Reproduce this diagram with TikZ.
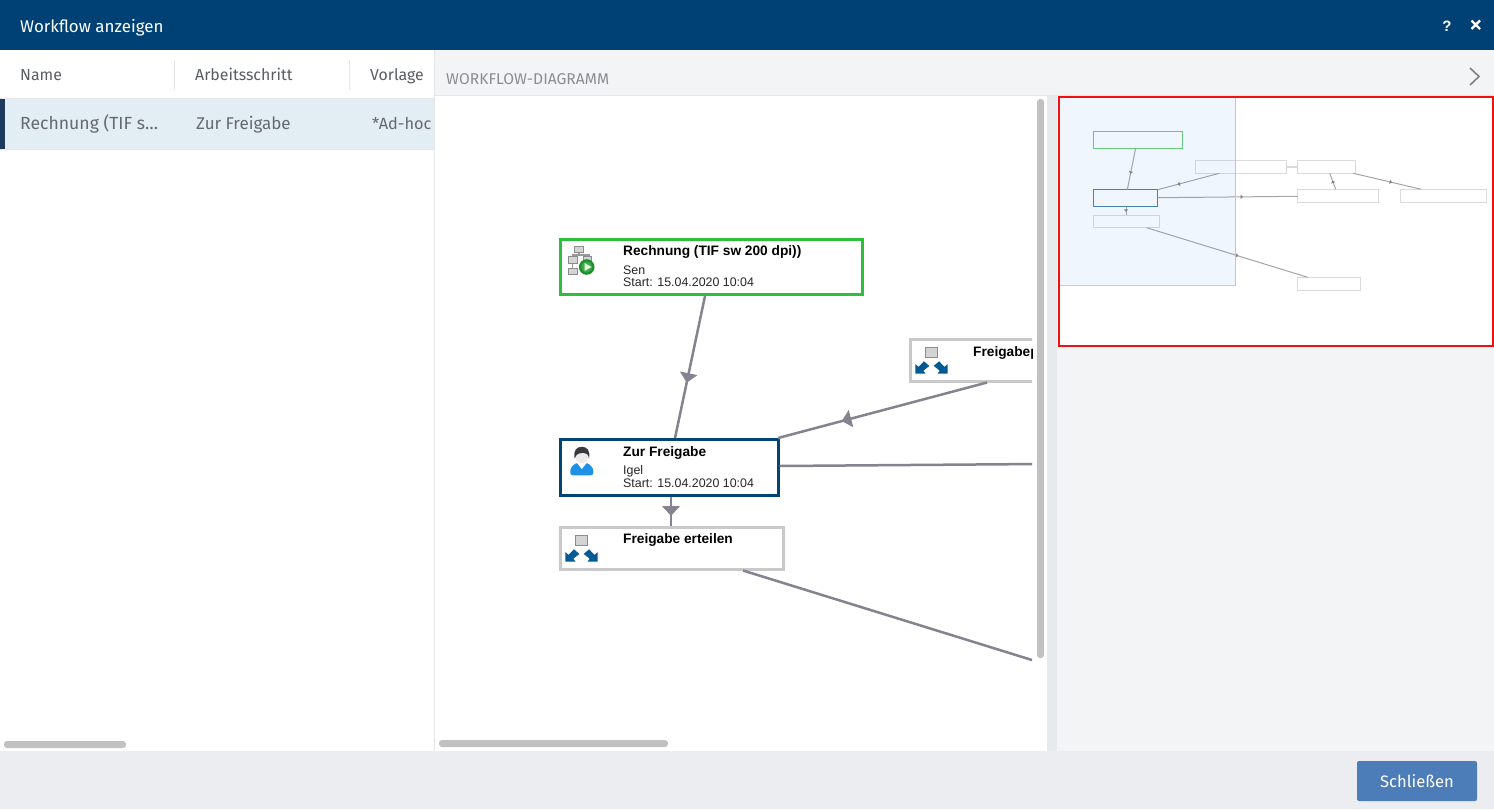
\documentclass[tikz,border=0pt]{standalone}
\usepackage{fontspec}
\setmainfont{Fira Sans}
\newfontfamily\nodefont{Liberation Sans}
\usetikzlibrary{arrows.meta,decorations.markings}
\definecolor{hdr}{HTML}{004175}
\definecolor{panel}{HTML}{F3F4F6}
\definecolor{rowbg}{HTML}{E3EDF4}
\definecolor{rowbar}{HTML}{1F3A5F}
\definecolor{sepc}{HTML}{E4E6E8}
\definecolor{gut}{HTML}{E8E9EC}
\definecolor{foot}{HTML}{EBEDF0}
\definecolor{sbar}{HTML}{C1C1C1}
\definecolor{txtc}{HTML}{66696D}
\definecolor{colc}{HTML}{5A5D61}
\definecolor{lblc}{HTML}{8A8E92}
\definecolor{btn}{HTML}{4D7DB8}
\definecolor{conn}{HTML}{85838F}
\definecolor{greenb}{HTML}{2DBE3C}
\definecolor{blueb}{HTML}{004575}
\definecolor{greyb}{HTML}{C9C9C9}
\definecolor{iconb}{HTML}{005A96}
\definecolor{minib}{HTML}{DADADC}
\definecolor{miniconn}{HTML}{A5A5AC}
\definecolor{cgreen}{HTML}{1E8E2A}
\definecolor{cgreenl}{HTML}{3FA84A}
\definecolor{cbody}{HTML}{1E90E6}
\definecolor{cface}{HTML}{EDEAE8}
\definecolor{chair}{HTML}{3A3A3E}
\definecolor{mg}{HTML}{70CC78}
\definecolor{mb}{HTML}{4C82AE}
\definecolor{ovb}{HTML}{C6CBD6}
\definecolor{ovf}{HTML}{2A8CF0}
\definecolor{cred}{HTML}{F01010}
\tikzset{
  x=1pt,y=-1pt,
  lbl/.style={anchor=base west,inner sep=0pt,font=\fontsize{17}{18}\selectfont,text=txtc},
  colhead/.style={lbl,font=\fontsize{15.9}{18}\selectfont,text=colc},
  nodetitle/.style={anchor=base west,inner sep=0pt,font=\nodefont\bfseries\fontsize{13.7}{14}\selectfont,text=black},
  nodesub/.style={anchor=base west,inner sep=0pt,font=\nodefont\fontsize{12.4}{14}\selectfont,text=black!85},
  wfbox/.style={rectangle,anchor=north west,inner sep=0pt,fill=white,line width=2.6pt},
  minibox/.style={rectangle,anchor=north west,inner sep=0pt,outer sep=0pt,draw=minib,line width=.9pt},
  midarr/.style={postaction={decorate,decoration={markings,mark=at position #1 with {\arrow[conn,line width=0pt]{Triangle[width=18pt,length=9.5pt]}}}}},
  miniarr/.style={postaction={decorate,decoration={markings,mark=at position #1 with {\arrow[miniconn!80!black,line width=0pt]{Triangle[width=4.5pt,length=2.5pt]}}}}},
  wfline/.style={draw=conn,line width=2.5pt},
  miniline/.style={draw=miniconn,line width=1pt},
  spliticon/.pic={
    \fill[iconb] (0,13.4) -- (0,3.8) -- (3.2,6.6) -- (8.6,1) -- (14,5.6) -- (8,10.4) -- (10.2,13.4) -- cycle;
    \fill[iconb] (32.4,13.4) -- (32.4,3.8) -- (29.2,6.6) -- (23.8,1) -- (18.4,5.6) -- (24.4,10.4) -- (22.2,13.4) -- cycle;
    \draw[fill=black!17,draw=black!45,line width=.8pt] (9.9,-12.6) rectangle (22.5,-3);
  },
}
\begin{document}
\begin{tikzpicture}
\useasboundingbox (0,0) rectangle (1494,809);
\fill[white] (0,0) rectangle (1494,809);
% chrome
\fill[hdr] (0,0) rectangle (1494,50);
\fill[panel] (435,50) rectangle (1494,96);
\fill[panel] (1057,96) rectangle (1494,751);
\fill[gut] (1047,96) rectangle (1057,751);
\draw[sepc,line width=1pt] (435,95.5) -- (1494,95.5);
\draw[sepc,line width=1pt] (434.5,50) -- (434.5,751);
\draw[sepc,line width=1pt] (174.5,60) -- (174.5,90);
\draw[sepc,line width=1pt] (349.5,60) -- (349.5,90);
\fill[rowbg] (0,99) rectangle (434,149);
\draw[sepc,line width=1pt] (0,98.5) -- (434,98.5);
\draw[sepc,line width=1pt] (0,149) -- (434,149);
\fill[rowbar] (0,99) rectangle (5,149);
\fill[foot] (0,751) rectangle (1494,809);
\fill[sbar,rounded corners=3pt] (4,741) rectangle (126,748);
\fill[sbar,rounded corners=3pt] (439,740) rectangle (668,747);
\fill[sbar,rounded corners=3pt] (1037,99) rectangle (1044,658);
% texts
\node[lbl,text=white,font=\fontsize{16.9}{18}\selectfont] (title) at (20,32) {Workflow anzeigen};
\node[colhead] (c1) at (20,80) {Name};
\node[colhead] (c2) at (195,80) {Arbeitsschritt};
\node[colhead] (c3) at (370,80) {Vorlage};
\node[lbl,font=\fontsize{15.6}{18}\selectfont,text=lblc] (lab) at (446,84) {WORKFLOW-DIAGRAMM};
\node[lbl,font=\fontsize{17.6}{18}\selectfont] (r1) at (20,129) {Rechnung (TIF s…};
\node[lbl] (r2) at (196,129) {Zur Freigabe};
\node[lbl,font=\fontsize{16.3}{18}\selectfont] (r3) at (372,129) {*Ad-hoc};
\draw[black!50,line width=1.6pt] (1470,68) -- (1479,76.5) -- (1470,85);
\node[anchor=base,inner sep=0pt,text=white,font=\nodefont\bfseries\fontsize{15}{16}\selectfont] (help) at (1447,31) {?};
\draw[white,line width=2.4pt] (1471.5,20.5) -- (1480,29) (1480,20.5) -- (1471.5,29);
\node[rectangle,rounded corners=2pt,fill=btn,minimum width=120pt,minimum height=40pt,inner sep=0pt,outer sep=0pt,anchor=north west,text=white,font=\fontsize{16.6}{18}\selectfont] (close) at (1357,761) {Schließen};
% diagram
\begin{scope}
\clip (435,97) rectangle (1032,750);
\node[wfbox,draw=greenb,minimum width=302pt,minimum height=55.4pt] (n1) at (559,238) {};
\node[wfbox,draw=blueb,minimum width=218pt,minimum height=56.4pt] (n2) at (559,438) {};
\node[wfbox,draw=greyb,minimum width=223pt,minimum height=41.9pt] (n3) at (559,526) {};
\node[wfbox,draw=greyb,minimum width=160pt,minimum height=41.9pt] (n4) at (909,338) {};
\coordinate (off1) at (1040,464);
\coordinate (off2) at (1040,662.5);
\path[wfline,midarr=.61] ([xshift=146pt]n1.south west) -- ([xshift=116pt]n2.north west);
\path[wfline,midarr=.695] ([xshift=78pt]n4.south west) -- ([xshift=-1.5pt]n2.north east);
\path[wfline] ([yshift=-28pt]n2.north east) -- (off1);
\path[wfline,midarr=.645] ([xshift=112pt]n2.south west) -- ([xshift=112pt]n3.north west);
\path[wfline] ([xshift=184pt]n3.south west) -- (off2);
% node texts
\node[nodetitle] (t1) at (623,255) {Rechnung (TIF sw 200 dpi))};
\node[nodesub] (t1a) at (623,274) {Sen};
\node[nodesub] (t1b) at (623,286) {Start: 15.04.2020 10:04};
\node[nodetitle] (t2) at (623,456) {Zur Freigabe};
\node[nodesub] (t2a) at (623,474) {Igel};
\node[nodesub] (t2b) at (623,487) {Start: 15.04.2020 10:04};
\node[nodetitle] (t3) at (623,543) {Freigabe erteilen};
\node[nodetitle] (t4) at (973,356) {Freigabep};
% icons
\pic at (565.3,548.3) {spliticon};
\pic at (915.3,360.3) {spliticon};
\begin{scope}[draw=black!45,fill=black!17,line width=.8pt]
\draw[black!40,line width=1.2pt] (579,252) -- (579,255) -- (572.5,255) -- (572.5,257) (579,255) -- (589,255) -- (589,257) (572.5,263) -- (572.5,268);
\filldraw (574.7,246.5) rectangle (583.7,252.7);
\filldraw (568,256.5) rectangle (577,263.5);
\filldraw (568,268) rectangle (577,274);
\filldraw (583,256.5) rectangle (591,263.5);
\end{scope}
\fill[cgreen] (586.7,267) circle[radius=7.8];
\fill[cgreenl] (586.7,267) circle[radius=5.6];
\fill[white!90!green] (584.5,263) -- (591.5,267) -- (584.5,271) -- cycle;
% person
\fill[cbody,rounded corners=2.5pt] (570.3,475.3) -- (570.3,468.5) -- (575.5,463) -- (588,463) -- (593.3,468.5) -- (593.3,475.3) -- cycle;
\fill[white] (577,463) -- (581.8,469) -- (586.6,463) -- cycle;
\fill[cface] (581.8,456.6) circle[radius=6.6];
\fill[chair] (574.6,458.5) .. controls (573,450) and (577,446.8) .. (581.8,446.8) .. controls (586.6,446.8) and (590.6,450) .. (589,458.5) .. controls (588.4,454) and (586,452.8) .. (583,452.8) .. controls (580,453) and (576.6,453) .. (574.6,458.5) -- cycle;
\end{scope}
% minimap
\fill[white] (1058,96) rectangle (1494,346);
\node[minibox,draw=mg,minimum width=88.7pt,minimum height=16.7pt] (m1) at (1093.3,131.3) {};
\node[minibox,draw=mb,minimum width=64.4pt,minimum height=17pt] (m2) at (1093.3,189.7) {};
\node[minibox,minimum width=65.7pt,minimum height=12.4pt] (m3) at (1093.3,215.3) {};
\node[minibox,minimum width=91.4pt,minimum height=13pt] (m4) at (1195.3,160.3) {};
\node[minibox,minimum width=58pt,minimum height=13pt] (m5) at (1297.7,160.3) {};
\node[minibox,minimum width=81pt,minimum height=13.4pt] (m6) at (1297.7,189.3) {};
\node[minibox,minimum width=86pt,minimum height=13.4pt] (m7) at (1400.3,189.3) {};
\node[minibox,minimum width=63pt,minimum height=13pt] (m8) at (1297.7,277.3) {};
\path[miniline,miniarr=.62] ([xshift=42.4pt]m1.south west) -- ([xshift=34pt]m2.north west);
\path[miniline,miniarr=.68] ([xshift=24pt]m4.south west) -- (m2.north east);
\path[miniline,miniarr=.61] ([yshift=-8pt]m2.north east) -- ([yshift=-7pt]m6.north west);
\path[miniline,miniarr=.6] ([xshift=32.7pt]m2.south west) -- ([xshift=32.7pt]m3.north west);
\path[miniline,miniarr=.57] ([xshift=53.3pt]m3.south west) -- ([xshift=10pt]m8.north west);
\path[draw=minib,line width=1.6pt] ([yshift=-6.5pt]m4.north east) -- ([yshift=-6.5pt]m5.north west);
\path[miniline,miniarr=.55] ([xshift=38pt]m6.north west) -- ([xshift=32pt]m5.south west);
\path[miniline,miniarr=.57] ([xshift=55.6pt]m5.south west) -- ([xshift=21pt]m7.north west);
\draw[draw=ovb,fill=none,line width=.8pt] (1059,97) rectangle (1235.7,285.3);
\fill[ovf,fill opacity=.07] (1059,97) rectangle (1235.7,285.3);
\draw[cred,line width=2pt] (1059,97) rectangle (1493,346);
\end{tikzpicture}
\end{document}
